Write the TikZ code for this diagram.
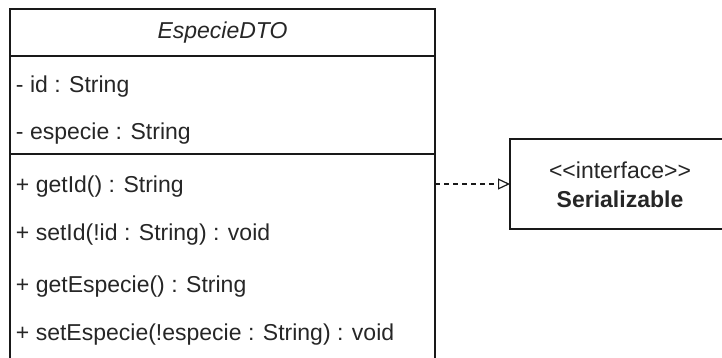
\documentclass[tikz,border=0pt]{standalone}
\usepackage{fontspec}
\setmainfont{Liberation Sans}
\usetikzlibrary{arrows.meta}
\begin{document}
\begin{tikzpicture}[x=1pt,y=-1pt,
  every node/.style={inner sep=0pt,outer sep=0pt,text=black!85,font=\fontsize{23}{27}\selectfont},
  umlbox/.style={draw=black!90,line width=1.6pt},
  member/.style={anchor=base west},
  realize/.style={draw=black!90,line width=1.2pt,dash pattern=on 5pt off 4pt,
    -{Triangle[open,length=12pt,width=11pt,line width=1.2pt]}}]
\useasboundingbox (0,0) rectangle (722,358);
% class EspecieDTO (its lower edge runs past the page)
\node[umlbox,minimum width=425pt,minimum height=372pt,anchor=north west] (cls) at (10,9) {};
\draw[umlbox] (10,56) -- (435,56);
\draw[umlbox] (10,154) -- (435,154);
\node (title) at (222.5,33) {\itshape EspecieDTO};
\node[member] (a1) at (16,93) {- id : String};
\node[member] (a2) at (16,140) {- especie : String};
\node[member] (m1) at (16,193) {+ getId() : String};
\node[member] (m2) at (16,240) {+ setId(!id : String) : void};
\node[member] (m3) at (16,292) {+ getEspecie() : String};
\node[member] (m4) at (16,340) {+ setEspecie(!especie : String) : void};
% interface Serializable (its right edge runs past the page)
\node[umlbox,minimum width=220pt,minimum height=90pt,anchor=north west] (ifc) at (510,139) {};
\node (st) at (620,170) {{<}{<}interface{>}{>}};
\node (nm) at (620,199) {\bfseries Serializable};
% realization
\coordinate (src) at (435,184);
\draw[realize] (src) -- (ifc.west |- src);
\end{tikzpicture}
\end{document}
